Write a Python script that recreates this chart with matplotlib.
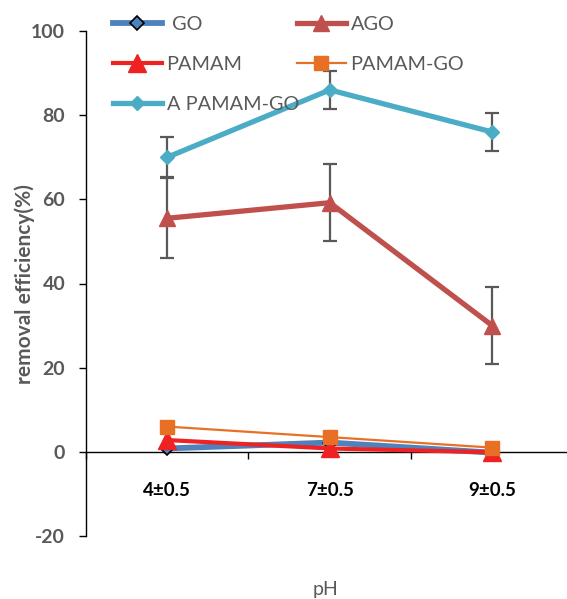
import matplotlib
matplotlib.use("Agg")
import matplotlib.pyplot as plt
from matplotlib.transforms import blended_transform_factory

plt.rcParams['font.family'] = ['Lato', 'DejaVu Sans']

# pH conditions (categories on the x axis)
categories = ["4±0.5", "7±0.5", "9±0.5"]

# removal efficiency (%) for each material
go = [0.8, 2.2, -0.2]
ago = [55.5, 59.2, 30.0]
ago_err = [9.5, 9.2, 9.2]
pamam = [2.8, 0.8, -0.1]
pamam_go = [6.0, 3.5, 1.0]
a_pamam_go = [70.0, 86.0, 76.0]
a_pamam_go_err = [4.8, 4.6, 4.6]

yticks = [-20, 0, 20, 40, 60, 80, 100]

W, H = 567, 599
fig = plt.figure(figsize=(W / 100, H / 100), dpi=100)
ax = fig.add_axes([86 / W, (H - 536) / H, 487.5 / W, 505 / H])

x = list(range(len(categories)))
gray = "#595959"

h_go, = ax.plot(x, go, color="#4F81BD", lw=4.2, marker="D", ms=7,
                mfc="#4F81BD", mec="black", mew=1.2, zorder=3)
c_ago = ax.errorbar(x, ago, yerr=ago_err, color="#C0504D", lw=3.8, marker="^",
                    ms=11, ecolor=gray, elinewidth=1.6, capsize=5, capthick=1.6,
                    zorder=3)
h_pamam, = ax.plot(x, pamam, color="#EE2222", lw=3.0, marker="^", ms=13,
                   zorder=4)
h_pgo, = ax.plot(x, pamam_go, color="#E87025", lw=1.6, marker="s", ms=10,
                 zorder=5)
c_apgo = ax.errorbar(x, a_pamam_go, yerr=a_pamam_go_err, color="#4BACC6", lw=3.8,
                     marker="D", ms=7, ecolor=gray, elinewidth=1.6, capsize=5,
                     capthick=1.6, zorder=3)
h_ago = c_ago.lines[0]
h_apgo = c_apgo.lines[0]

ax.set_xlim(-0.5, 2.5)
ax.set_ylim(-20, 100)

for s in ["top", "right"]:
    ax.spines[s].set_visible(False)
ax.spines["bottom"].set_position(("data", 0))
ax.spines["bottom"].set_color("black")
ax.spines["left"].set_color("black")
ax.spines["bottom"].set_linewidth(1.0)
ax.spines["left"].set_linewidth(1.0)

ax.set_yticks(yticks)
ax.set_yticklabels([str(v) for v in yticks], fontsize=14, fontweight="bold", color=gray)
ax.tick_params(axis="y", direction="out", length=5, width=1, pad=10)

# category labels centred under each point, boundary ticks between them
ax.set_xticks(x)
ax.set_xticklabels([])
ax.tick_params(axis="x", which="major", length=0)
ax.set_xticks([-0.5, 0.5, 1.5, 2.5], minor=True)
ax.tick_params(axis="x", which="minor", direction="out", length=5, width=1)
tr = blended_transform_factory(ax.transData, fig.transFigure)
for xi, lab in zip(x, categories):
    ax.text(xi, 1 - 490 / H, lab, transform=tr, ha="center", va="center",
            fontsize=13.5, fontweight="bold", color="black")

fig.text(325 / W, 1 - 590 / H, "pH", ha="center", va="center", fontsize=14, color=gray)
fig.text(25 / W, 1 - 284 / H, "removal efficiency(%)", ha="center", va="center",
         rotation=90, fontsize=15, fontweight="bold", color=gray)

# two legend columns, filled row by row
leg_kw = dict(loc="upper left", frameon=False, fontsize=14.3, handlelength=2.45,
              handletextpad=0.25, labelspacing=1.15, borderpad=0.0,
              borderaxespad=0.0)
leg1 = fig.legend([h_go, h_pamam, h_apgo], [" GO", "PAMAM", "A PAMAM-GO"],
                  bbox_to_anchor=(113 / W, 1 - 16 / H), **leg_kw)
leg2 = fig.legend([h_ago, h_pgo], ["AGO", "PAMAM-GO"],
                  bbox_to_anchor=(297 / W, 1 - 16 / H), **leg_kw)
for leg in (leg1, leg2):
    for t in leg.get_texts():
        t.set_color(gray)
    leg.set_zorder(10)

fig.savefig("out.png", dpi=100)
